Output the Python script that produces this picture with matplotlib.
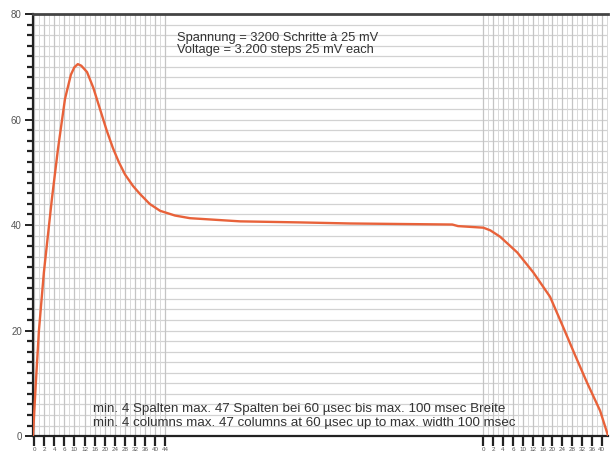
import numpy as np
import matplotlib.pyplot as plt

plt.rcParams["font.family"] = ["Liberation Sans", "DejaVu Sans"]

# pulse shape: position along the (broken) time axis vs. amplitude
pos = [0, 0.5, 1.04, 1.9, 2.8, 3.3, 4.35, 5.57, 6.6, 7.2, 7.8, 8.4, 9.4, 10.5,
       11.65, 12.8, 13.9, 14.9, 16.0, 17.4, 18.6, 20.3, 22.1, 24.7, 27.3, 36.0,
       46.4, 55.1, 63.8, 72.9, 73.9, 78.3, 79.5, 81.2, 84.2, 87.0, 89.9, 92.2,
       94.3, 96.3, 98.6, 100]
amp = [0, 10, 20, 31, 40, 45, 54.4, 63.9, 68.5, 69.9, 70.5, 70.2, 69, 66,
       62, 58, 54.6, 52.0, 49.6, 47.4, 45.9, 44.0, 42.7, 41.8, 41.3, 40.7,
       40.5, 40.3, 40.2, 40.1, 39.8, 39.5, 39.0, 37.8, 34.8, 31.0, 26.4, 20.6,
       15.2, 10.2, 4.8, 0]

x_labels = ["0", "2", "4", "6", "10", "12", "16", "20", "24", "28", "32", "36", "40", "44"]
y_ticks = [0, 20, 40, 60, 80]

txt_top = ["Spannung = 3200 Schritte à 25 mV", "Voltage = 3.200 steps 25 mV each"]
txt_bottom = ["min. 4 Spalten max. 47 Spalten bei 60 µsec bis max. 100 msec Breite",
              "min. 4 columns max. 47 columns at 60 µsec up to max. width 100 msec"]

fig = plt.figure(figsize=(6.1, 4.51), dpi=100)
ax = fig.add_axes([0.054, 0.033, 0.943, 0.936])
ax.set_xlim(0, 100)
ax.set_ylim(0, 80)

# tick positions of the two dense sections
left_ticks = np.linspace(0.2, 23.0, len(x_labels))
right_ticks = np.linspace(78.3, 98.9, len(x_labels) - 1)

# horizontal grid over the whole width
for yv in np.arange(2, 80, 2):
    ax.axhline(yv, color="#d2d2d2", lw=0.9, zorder=1)

# vertical grid only in the left and right sections
def vgrid(ticks, end):
    step = ticks[1] - ticks[0]
    for xv in np.arange(ticks[0], end + 0.01, step / 2):
        ax.axvline(xv, color="#dadada", lw=0.7, zorder=1)
    for xv in ticks:
        ax.axvline(xv, color="#c4c4c4", lw=0.9, zorder=1)

vgrid(left_ticks, 23.0)
vgrid(right_ticks, 100)

ax.plot(pos, amp, color="#e8623a", lw=1.7, zorder=3, solid_capstyle="round",
        solid_joinstyle="round")

ax.set_xticks(list(left_ticks) + list(right_ticks))
ax.set_xticklabels(x_labels + x_labels[:-1], fontsize=4.5, color="#555555")
ax.tick_params(axis="x", direction="out", length=7, width=1.6, color="#222222", pad=1)

ax.set_yticks(y_ticks)
ax.set_yticks(np.arange(0, 81, 2), minor=True)
ax.set_yticklabels([str(v) for v in y_ticks], fontsize=7, color="#555555")
ax.tick_params(axis="y", which="major", direction="out", length=6, width=1.4, color="#222222", pad=2)
ax.tick_params(axis="y", which="minor", direction="out", length=4, width=1.6, color="#222222")

for side in ["left", "bottom"]:
    ax.spines[side].set_linewidth(1.6)
    ax.spines[side].set_color("#222222")
ax.spines["top"].set_linewidth(2.0)
ax.spines["top"].set_color("#444444")
ax.spines["right"].set_visible(False)

for line, yv in zip(txt_top, [75.5, 73.2]):
    ax.text(25.0, yv, line, fontsize=9.3, color="#333333", va="center", ha="left", zorder=4)
for line, yv in zip(txt_bottom, [5.1, 2.5]):
    ax.text(10.4, yv, line, fontsize=9.6, color="#333333", va="center", ha="left", zorder=4)

fig.savefig("out.png", dpi=100)
